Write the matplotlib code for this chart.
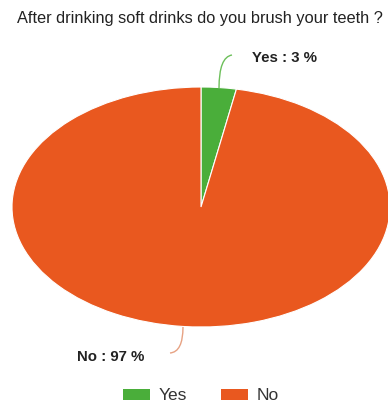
import matplotlib
matplotlib.use("Agg")
import matplotlib.pyplot as plt
from matplotlib.patches import Patch, PathPatch
from matplotlib.path import Path

plt.rcParams['font.family'] = ['Liberation Sans', 'DejaVu Sans']

title = "After drinking soft drinks do you brush your teeth ?"
categories = ["Yes", "No"]
values = [3, 97]
colors = ["#4aae3a", "#e9581f"]

W, H = 388, 403
fig = plt.figure(figsize=(W / 100, H / 100), dpi=100)
# pie is drawn as a horizontally stretched ellipse
cx, cy, rx, ry = 201, 207, 189, 120
ax = fig.add_axes([(cx - rx) / W, (H - cy - ry) / H, 2 * rx / W, 2 * ry / H])

wedges, _ = ax.pie(values, colors=colors, startangle=90, counterclock=False,
                   wedgeprops=dict(edgecolor="white", linewidth=0.8))
ax.set_aspect('auto')
ax.set_xlim(-1, 1)
ax.set_ylim(-1, 1)
ax.axis('off')


def px(x, y):
    """pixel position (from top-left) -> data coords of the pie axes"""
    return ((x - cx) / rx, (cy - y) / ry)


def leader(p0, p1, p2, color):
    verts = [px(*p0), px(*p1), px(*p2)]
    path = Path(verts, [Path.MOVETO, Path.CURVE3, Path.CURVE3])
    ax.add_patch(PathPatch(path, facecolor='none', edgecolor=color, lw=1.0,
                           clip_on=False))


leader((219, 88), (219, 57), (232, 55), '#6cbf5a')
leader((183, 327), (183, 352), (170, 353), '#e7a283')

lbl_kw = dict(fontsize=10.8, fontweight='bold', ha='center', va='center',
              color='#222222', clip_on=False)
ax.text(*px(285, 58), f"{categories[0]} : {values[0]} %", **lbl_kw)
ax.text(*px(111, 357), f"{categories[1]} : {values[1]} %", **lbl_kw)

fig.text(200 / W, 1 - 18 / H, title, ha='center', va='center',
         fontsize=11.8, color='#222222')

handles = [Patch(facecolor=c, edgecolor='none') for c in colors]
fig.legend(handles, categories, loc='center', bbox_to_anchor=(201 / W, 1 - 396 / H),
           ncol=2, frameon=False, fontsize=12.5, handlelength=1.55, handleheight=0.55,
           columnspacing=2.0, handletextpad=0.5, labelcolor='#333333')

fig.savefig("out.png", dpi=100)
